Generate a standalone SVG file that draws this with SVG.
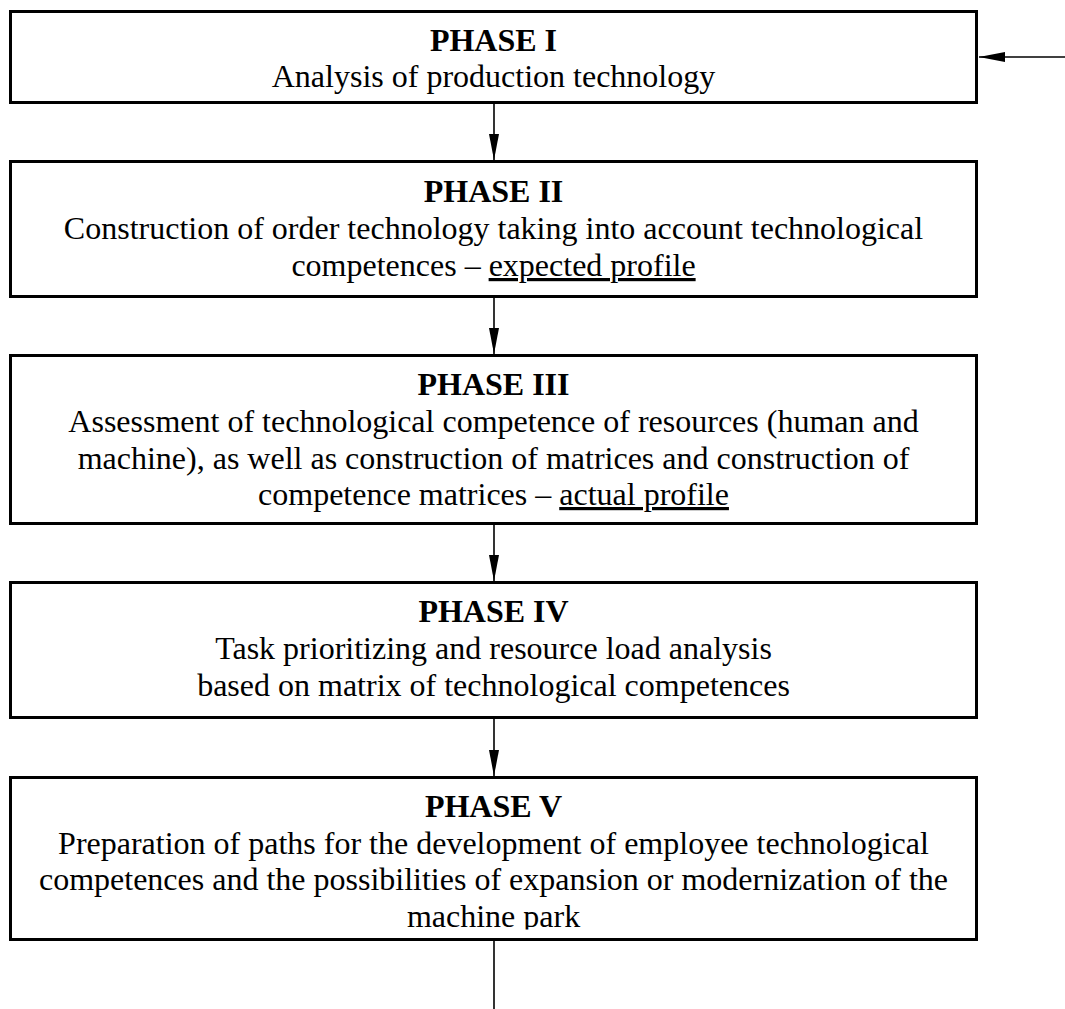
<svg xmlns="http://www.w3.org/2000/svg" width="1065" height="1009" viewBox="0 0 1065 1009">
  <style>
    .box { fill: #ffffff; stroke: #000000; stroke-width: 3; }
    .wire { stroke: #000000; stroke-width: 1.6; fill: none; }
    .title { font-family: "Liberation Serif", "Times New Roman", serif; font-size: 32px; font-weight: bold; text-anchor: middle; fill: #000; }
    .body { font-family: "Liberation Serif", "Times New Roman", serif; font-size: 32px; text-anchor: middle; fill: #000; }
    .ul { text-decoration: underline; }
  </style>
  <defs>
    <marker id="head" viewBox="0 0 26 10" refX="26" refY="5" markerWidth="26" markerHeight="10" markerUnits="userSpaceOnUse" orient="auto">
      <path d="M0,0 L26,5 L0,10 Z" fill="#000"/>
    </marker>
    <!-- last text line of phase V is cut off just below its baseline -->
    <clipPath id="cut5">
      <rect x="0" y="890" width="1065" height="39.5"/>
    </clipPath>
  </defs>

  <rect width="1065" height="1009" fill="#ffffff"/>

  <g id="connectors">
    <line class="wire" x1="1065" y1="57" x2="979" y2="57" marker-end="url(#head)"/>
    <line class="wire" x1="494" y1="104" x2="494" y2="160" marker-end="url(#head)"/>
    <line class="wire" x1="494" y1="298" x2="494" y2="354" marker-end="url(#head)"/>
    <line class="wire" x1="494" y1="525" x2="494" y2="581" marker-end="url(#head)"/>
    <line class="wire" x1="494" y1="719" x2="494" y2="776" marker-end="url(#head)"/>
    <line class="wire" x1="494" y1="941" x2="494" y2="1009"/>
  </g>

  <g id="phase1">
    <rect class="box" x="10.5" y="11.5" width="966" height="91"/>
    <text class="title" x="493.5" y="51">PHASE I</text>
    <text class="body" x="493.5" y="87">Analysis of production technology</text>
  </g>

  <g id="phase2">
    <rect class="box" x="10.5" y="161.5" width="966" height="135"/>
    <text class="title" x="493.5" y="202">PHASE II</text>
    <text class="body" x="493.5" y="239">Construction of order technology taking into account technological</text>
    <text class="body" x="493.5" y="276">competences – <tspan class="ul">expected profile</tspan></text>
  </g>

  <g id="phase3">
    <rect class="box" x="10.5" y="355.5" width="966" height="168"/>
    <text class="title" x="493.5" y="395">PHASE III</text>
    <text class="body" x="493.5" y="432">Assessment of technological competence of resources (human and</text>
    <text class="body" x="493.5" y="468.5">machine), as well as construction of matrices and construction of</text>
    <text class="body" x="493.5" y="505">competence matrices – <tspan class="ul">actual profile</tspan></text>
  </g>

  <g id="phase4">
    <rect class="box" x="10.5" y="582.5" width="966" height="135"/>
    <text class="title" x="493.5" y="622">PHASE IV</text>
    <text class="body" x="493.5" y="659">Task prioritizing and resource load analysis</text>
    <text class="body" x="493.5" y="696">based on matrix of technological competences</text>
  </g>

  <g id="phase5">
    <rect class="box" x="10.5" y="777.5" width="966" height="162"/>
    <text class="title" x="493.5" y="817">PHASE V</text>
    <text class="body" x="493.5" y="853.5">Preparation of paths for the development of employee technological</text>
    <text class="body" x="493.5" y="890">competences and the possibilities of expansion or modernization of the</text>
    <text class="body" x="493.5" y="927" clip-path="url(#cut5)">machine park</text>
  </g>
</svg>
